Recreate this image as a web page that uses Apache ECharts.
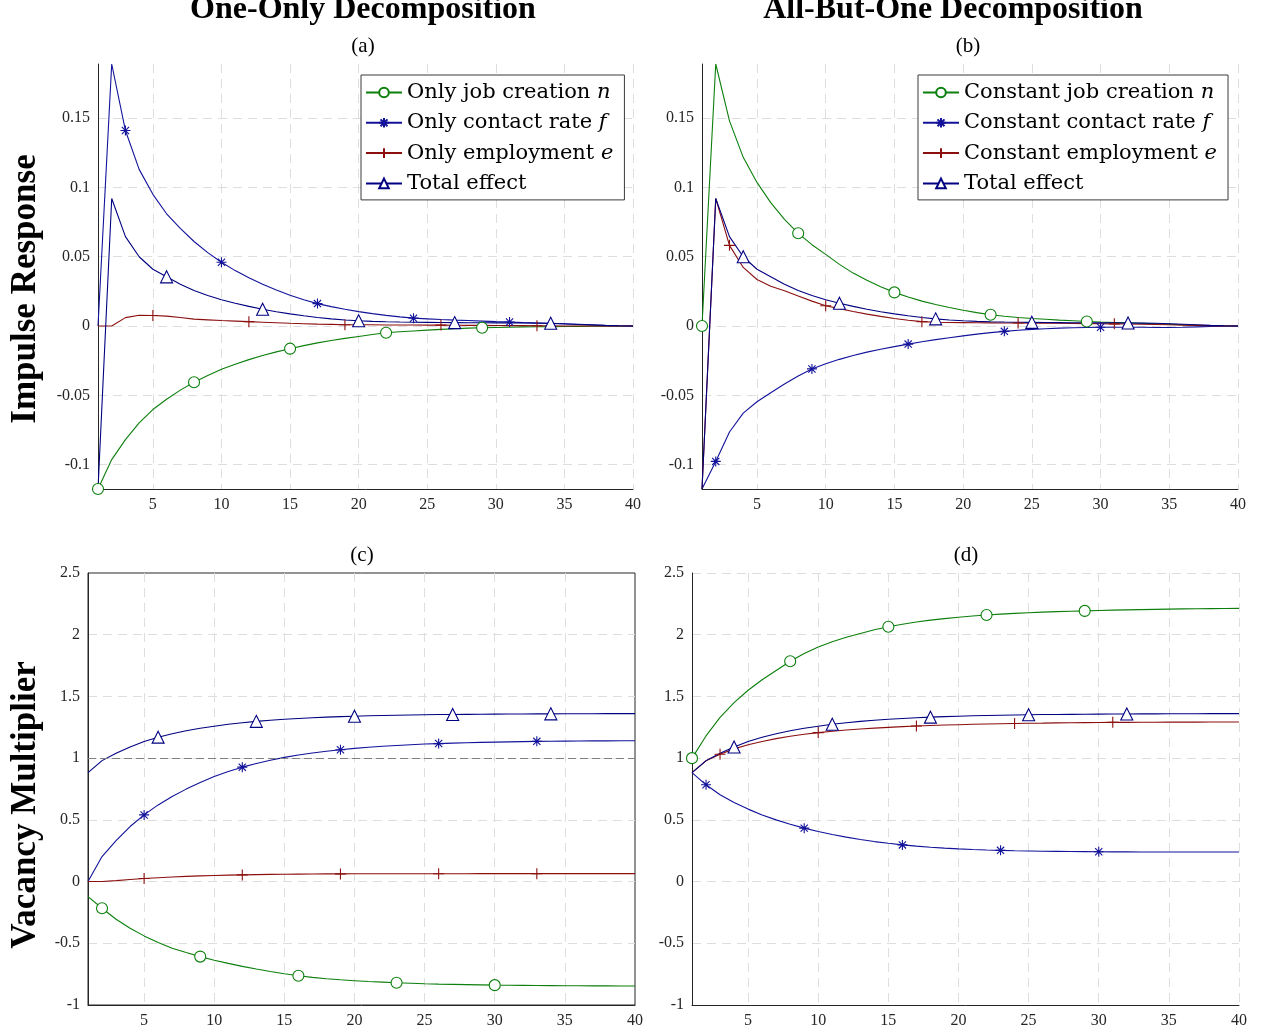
<!DOCTYPE html>
<html>
<head>
<meta charset="utf-8">
<title>Decomposition</title>
<script src="https://cdn.jsdelivr.net/npm/echarts@6/dist/echarts.min.js"></script>
<style>
    html, body { margin: 0; padding: 0; background: #fff; }
    #chart { width: 1264px; height: 1035px; }
</style>
</head>
<body>
<div id="chart"></div>
<script>
// 横轴：期数
var periods = [1, 2, 3, 4, 5, 6, 7, 8, 9, 10, 11, 12, 13, 14, 15, 16, 17, 18, 19, 20,
    21, 22, 23, 24, 25, 26, 27, 28, 29, 30, 31, 32, 33, 34, 35, 36, 37, 38, 39, 40];

var xTicks = [5, 10, 15, 20, 25, 30, 35, 40];
var irfTicks = [-0.1, -0.05, 0, 0.05, 0.1, 0.15];
var multTicks = [-1, -0.5, 0, 0.5, 1, 1.5, 2, 2.5];

// (a) One-Only, impulse response
var irfOnlyN = [-0.1175, -0.0963, -0.0819, -0.0698, -0.0602, -0.0528, -0.0462, -0.0405, -0.0356, -0.0312,
    -0.0275, -0.0242, -0.0212, -0.0186, -0.0163, -0.0141, -0.0121, -0.0104, -0.0089, -0.0075,
    -0.0061, -0.0048, -0.0041, -0.0035, -0.0029, -0.0024, -0.0019, -0.0015, -0.0012, -0.0010,
    -0.0008, -0.0006, -0.0005, -0.0004, -0.0003, -0.0002, -0.0001, -0.0001, 0, 0];
var irfOnlyF = [0, 0.189, 0.141, 0.113, 0.095, 0.081, 0.0705, 0.061, 0.053, 0.046,
    0.040, 0.0348, 0.0302, 0.026, 0.0222, 0.019, 0.0162, 0.0140, 0.0121, 0.0104,
    0.0090, 0.0077, 0.0066, 0.0057, 0.0052, 0.0047, 0.0043, 0.0040, 0.0036, 0.0032,
    0.0029, 0.0025, 0.0022, 0.0019, 0.0015, 0.0011, 0.0007, 0.0003, 0.0001, 0];
var irfOnlyE = [0, 0, 0.0061, 0.0078, 0.0076, 0.0072, 0.0062, 0.0050, 0.0045, 0.0040,
    0.0036, 0.0032, 0.0028, 0.0024, 0.0020, 0.0017, 0.0014, 0.0012, 0.0010, 0.0009,
    0.0009, 0.0008, 0.0008, 0.0008, 0.0007, 0.0007, 0.0006, 0.0005, 0.0005, 0.0004,
    0.0003, 0.0003, 0.0002, 0.0002, 0.0001, 0.0001, 0.0001, 0, 0, 0];
// 总效应，(a)(b) 共用
var irfTotal = [-0.1175, 0.092, 0.0645, 0.050, 0.041, 0.0355, 0.0302, 0.0256, 0.022, 0.019,
    0.0165, 0.0142, 0.0121, 0.0103, 0.0088, 0.0074, 0.0062, 0.0052, 0.0044, 0.0038,
    0.0034, 0.0031, 0.0029, 0.0028, 0.0027, 0.0026, 0.0025, 0.0024, 0.0024, 0.0023,
    0.0023, 0.0022, 0.0021, 0.0020, 0.0017, 0.0013, 0.0009, 0.0005, 0.0002, 0];

// (b) All-But-One, impulse response
var irfConstN = [0, 0.189, 0.148, 0.1217, 0.1036, 0.089, 0.077, 0.0669, 0.0587, 0.0517,
    0.0445, 0.0382, 0.0330, 0.0284, 0.0243, 0.0210, 0.0180, 0.0156, 0.0134, 0.0114,
    0.0097, 0.0082, 0.0071, 0.0062, 0.0055, 0.0049, 0.0043, 0.0038, 0.0033, 0.0029,
    0.0026, 0.0023, 0.0020, 0.0017, 0.0014, 0.0010, 0.0006, 0.0003, 0.0001, 0];
var irfConstF = [-0.1175, -0.0976, -0.0764, -0.0628, -0.0546, -0.0481, -0.0418, -0.0360, -0.0309, -0.0272,
    -0.0240, -0.0212, -0.0188, -0.0167, -0.0148, -0.0130, -0.0113, -0.0098, -0.0084, -0.0071,
    -0.0058, -0.0047, -0.0038, -0.0030, -0.0024, -0.0019, -0.0015, -0.0012, -0.0010, -0.0008,
    -0.0008, -0.0008, -0.0009, -0.0010, -0.0010, -0.0009, -0.0006, -0.0003, -0.0001, 0];
var irfConstE = [-0.1175, 0.092, 0.0582, 0.0423, 0.0336, 0.0287, 0.0254, 0.0217, 0.0180, 0.0147,
    0.0126, 0.0105, 0.0086, 0.0070, 0.0055, 0.0042, 0.0032, 0.0028, 0.0026, 0.0025,
    0.0024, 0.0023, 0.0022, 0.0022, 0.0021, 0.0020, 0.0020, 0.0019, 0.0018, 0.0017,
    0.0016, 0.0015, 0.0013, 0.0011, 0.0009, 0.0007, 0.0005, 0.0003, 0.0001, 0];

// (c) One-Only, vacancy multiplier
var multOnlyN = [-0.122, -0.216, -0.305, -0.378, -0.440, -0.494, -0.540, -0.575, -0.608, -0.637,
    -0.663, -0.687, -0.709, -0.729, -0.747, -0.763, -0.776, -0.787, -0.796, -0.803,
    -0.810, -0.815, -0.820, -0.824, -0.828, -0.831, -0.833, -0.835, -0.837, -0.839,
    -0.840, -0.841, -0.842, -0.843, -0.844, -0.844, -0.845, -0.845, -0.846, -0.846];
var multOnlyF = [0, 0.203, 0.332, 0.446, 0.540, 0.621, 0.689, 0.749, 0.802, 0.851,
    0.891, 0.927, 0.957, 0.983, 1.006, 1.025, 1.042, 1.056, 1.068, 1.079,
    1.088, 1.096, 1.103, 1.109, 1.114, 1.118, 1.122, 1.125, 1.128, 1.130,
    1.132, 1.134, 1.136, 1.137, 1.138, 1.139, 1.140, 1.140, 1.141, 1.141];
var multOnlyE = [0, 0.001, 0.008, 0.017, 0.025, 0.031, 0.037, 0.042, 0.046, 0.049,
    0.052, 0.054, 0.056, 0.058, 0.059, 0.060, 0.061, 0.062, 0.062, 0.063,
    0.063, 0.063, 0.063, 0.063, 0.063, 0.063, 0.063, 0.063, 0.064, 0.064,
    0.064, 0.064, 0.064, 0.064, 0.064, 0.064, 0.064, 0.064, 0.064, 0.064];
// 总效应，(c)(d) 共用
var multTotal = [0.883, 0.980, 1.040, 1.090, 1.135, 1.170, 1.198, 1.222, 1.242, 1.259,
    1.274, 1.287, 1.298, 1.307, 1.315, 1.321, 1.327, 1.332, 1.336, 1.340,
    1.343, 1.346, 1.348, 1.350, 1.352, 1.353, 1.354, 1.355, 1.356, 1.357,
    1.358, 1.358, 1.359, 1.359, 1.360, 1.360, 1.360, 1.361, 1.361, 1.361];

// (d) All-But-One, vacancy multiplier
var multConstN = [1.000, 1.180, 1.330, 1.450, 1.550, 1.635, 1.710, 1.785, 1.848, 1.900,
    1.943, 1.979, 2.010, 2.040, 2.064, 2.085, 2.103, 2.118, 2.130, 2.141,
    2.151, 2.160, 2.167, 2.173, 2.178, 2.183, 2.187, 2.190, 2.193, 2.196,
    2.199, 2.201, 2.203, 2.205, 2.207, 2.209, 2.210, 2.211, 2.212, 2.213];
var multConstF = [0.883, 0.784, 0.703, 0.640, 0.587, 0.540, 0.500, 0.465, 0.433, 0.405,
    0.381, 0.360, 0.341, 0.324, 0.310, 0.297, 0.287, 0.278, 0.271, 0.265,
    0.260, 0.256, 0.253, 0.250, 0.248, 0.246, 0.245, 0.244, 0.243, 0.242,
    0.241, 0.241, 0.240, 0.240, 0.240, 0.239, 0.239, 0.239, 0.239, 0.239];
var multConstE = [0.883, 0.978, 1.032, 1.075, 1.108, 1.135, 1.158, 1.177, 1.193, 1.207,
    1.218, 1.228, 1.236, 1.243, 1.249, 1.255, 1.260, 1.264, 1.268, 1.271,
    1.274, 1.277, 1.279, 1.281, 1.283, 1.284, 1.286, 1.287, 1.288, 1.289,
    1.290, 1.290, 1.291, 1.291, 1.292, 1.292, 1.292, 1.293, 1.293, 1.293];

var multRefLine = 1;

var FONT = '"Liberation Serif", serif';
var LEGEND_FONT = '"DejaVu Serif", serif';
var GREEN = '#0c7f0c';
var BLUE = '#12129a';
var RED = '#8c0f0f';
var NAVY = '#000080';
var AXIS_COLOR = '#262626';

var SYM = {
    circle: 'circle',
    star: 'path://M0,-5L0,5M-5,0L5,0M-3.6,-3.6L3.6,3.6M-3.6,3.6L3.6,-3.6',
    plus: 'path://M0,-5L0,5M-5,0L5,0',
    triangle: 'triangle'
};
var SYM_SIZE = {circle: 11, star: 10, plus: 11, triangle: 12};

// 图例文字，数学字母用斜体
var legendParts = {
    'Only job creation n': ['Only job creation ', 'n'],
    'Only contact rate f': ['Only contact rate ', 'f'],
    'Only employment e': ['Only employment ', 'e'],
    'Constant job creation n': ['Constant job creation ', 'n'],
    'Constant contact rate f': ['Constant contact rate ', 'f'],
    'Constant employment e': ['Constant employment ', 'e'],
    'Total effect': ['Total effect', '']
};

/**
 * 生成一条折线，每 7 个点标一个记号
 */
function makeSeries(name, values, color, symbol, firstMark, gridIdx) {
    return {
        name: name,
        type: 'line',
        xAxisIndex: gridIdx,
        yAxisIndex: gridIdx,
        data: periods.map(function (p, i) {
            return [p, values[i]];
        }),
        symbol: SYM[symbol],
        showAllSymbol: true,
        symbolSize: function (v, params) {
            var k = params.dataIndex - (firstMark - 1);
            return (k >= 0 && k % 7 === 0 && k <= 28) ? SYM_SIZE[symbol] : 0;
        },
        itemStyle: {
            color: '#fff',
            borderColor: color,
            borderWidth: 1.1
        },
        lineStyle: {
            color: color,
            width: 1.1
        },
        emphasis: {disabled: true},
        animation: false
    };
}

function xAxisFor(gridIdx, boxed) {
    return {
        type: 'value',
        gridIndex: gridIdx,
        min: 1,
        max: 40,
        splitNumber: 8,
        axisLine: {show: true, onZero: false, lineStyle: {color: AXIS_COLOR, width: 1}},
        axisTick: {show: false},
        axisLabel: {
            showMinLabel: false,
            color: AXIS_COLOR,
            fontFamily: FONT,
            fontSize: 16,
            margin: 8,
            formatter: function (v) {
                return xTicks.indexOf(v) >= 0 ? String(v) : '';
            }
        },
        splitLine: {
            show: true,
            showMaxLine: !boxed,
            lineStyle: {color: '#dedede', type: [9, 6], width: 1}
        }
    };
}

function yAxisFor(gridIdx, top, boxed) {
    var axis = {
        type: 'value',
        gridIndex: gridIdx,
        axisLine: {show: true, onZero: false, lineStyle: {color: AXIS_COLOR, width: 1}},
        axisTick: {show: false},
        axisLabel: {
            color: AXIS_COLOR,
            fontFamily: FONT,
            fontSize: 16,
            margin: 8,
            showMinLabel: !top,
            showMaxLabel: !top,
            formatter: function (v) {
                var ticks = top ? irfTicks : multTicks;
                for (var i = 0; i < ticks.length; i++) {
                    if (Math.abs(ticks[i] - v) < 1e-9) {
                        return String(ticks[i]);
                    }
                }
                return '';
            }
        },
        splitLine: {
            show: true,
            showMaxLine: !(top || boxed),
            lineStyle: {color: '#dedede', type: [9, 6], width: 1}
        }
    };
    if (top) {
        // 上面两幅图的纵轴紧贴数据
        axis.min = Math.min.apply(null, irfOnlyN.concat(irfTotal, irfConstF));
        axis.max = Math.max.apply(null, irfOnlyF.concat(irfConstN));
        axis.splitNumber = 6;
    }
    else {
        axis.min = -1;
        axis.max = 2.5;
        axis.interval = 0.5;
    }
    return axis;
}

function legendFor(left, names) {
    return {
        orient: 'vertical',
        left: left,
        top: 75,
        data: names,
        itemWidth: 36,
        itemHeight: 12,
        itemGap: 9.3,
        padding: [7, 11, 6, 4],
        backgroundColor: '#fff',
        borderColor: '#3a3a3a',
        borderWidth: 1,
        selectedMode: false,
        formatter: function (name) {
            var p = legendParts[name.trim()];
            return '{t|' + p[0] + '}' + (p[1] ? '{m|' + p[1] + '}' : '');
        },
        textStyle: {
            rich: {
                t: {fontFamily: LEGEND_FONT, fontSize: 21, color: '#000', lineHeight: 22},
                m: {fontFamily: LEGEND_FONT, fontSize: 21, fontStyle: 'italic', color: '#000', lineHeight: 22}
            }
        }
    };
}

function label(text, x, y, size, bold, rotate) {
    return {
        type: 'text',
        x: x,
        y: y,
        rotation: rotate ? Math.PI / 2 : 0,
        style: {
            text: text,
            fill: '#000',
            font: (bold ? 'bold ' : '') + size + 'px ' + FONT,
            align: 'center',
            verticalAlign: 'middle'
        }
    };
}

var chart = echarts.init(document.getElementById('chart'), null, {renderer: 'canvas'});

var series = [
    makeSeries('Only job creation n', irfOnlyN, GREEN, 'circle', 1, 0),
    makeSeries('Only contact rate f', irfOnlyF, BLUE, 'star', 3, 0),
    makeSeries('Only employment e', irfOnlyE, RED, 'plus', 5, 0),
    makeSeries('Total effect', irfTotal, NAVY, 'triangle', 6, 0),

    makeSeries('Constant job creation n', irfConstN, GREEN, 'circle', 1, 1),
    makeSeries('Constant contact rate f', irfConstF, BLUE, 'star', 2, 1),
    makeSeries('Constant employment e', irfConstE, RED, 'plus', 3, 1),
    makeSeries('Total effect ', irfTotal, NAVY, 'triangle', 4, 1),

    makeSeries('c-n', multOnlyN, GREEN, 'circle', 2, 2),
    makeSeries('c-f', multOnlyF, BLUE, 'star', 5, 2),
    makeSeries('c-e', multOnlyE, RED, 'plus', 5, 2),
    makeSeries('c-total', multTotal, NAVY, 'triangle', 6, 2),

    makeSeries('d-n', multConstN, GREEN, 'circle', 1, 3),
    makeSeries('d-f', multConstF, BLUE, 'star', 2, 3),
    makeSeries('d-e', multConstE, RED, 'plus', 3, 3),
    makeSeries('d-total', multTotal, NAVY, 'triangle', 4, 3)
];

// (c) 中 y = 1 的参考虚线
series[11].markLine = {
    silent: true,
    symbol: ['none', 'none'],
    label: {show: false},
    lineStyle: {color: '#808080', type: [8, 4], width: 1.2},
    data: [{yAxis: multRefLine}]
};

var option = {
    backgroundColor: '#fff',
    animation: false,
    grid: [
        {left: 98, top: 64, width: 535, height: 425},
        {left: 702, top: 64, width: 536, height: 425},
        {left: 88, top: 573, width: 547, height: 432, show: true, borderColor: AXIS_COLOR, borderWidth: 1},
        {left: 692, top: 573, width: 547, height: 432}
    ],
    xAxis: [xAxisFor(0), xAxisFor(1), xAxisFor(2, true), xAxisFor(3)],
    yAxis: [yAxisFor(0, true), yAxisFor(1, true), yAxisFor(2, false, true), yAxisFor(3, false)],
    legend: [
        legendFor(361, ['Only job creation n', 'Only contact rate f', 'Only employment e', 'Total effect']),
        legendFor(918, ['Constant job creation n', 'Constant contact rate f', 'Constant employment e', 'Total effect '])
    ],
    graphic: [
        label('One-Only Decomposition', 363, 10, 32, true),
        label('All-But-One Decomposition', 953, 10, 32, true),
        label('(a)', 363, 46, 21),
        label('(b)', 968, 46, 21),
        label('(c)', 362, 555, 21),
        label('(d)', 966, 555, 21),
        label('Impulse Response', 26, 289, 35, true, true),
        label('Vacancy Multiplier', 26, 805, 35, true, true)
    ],
    series: series
};

chart.setOption(option);
</script>
</body>
</html>
